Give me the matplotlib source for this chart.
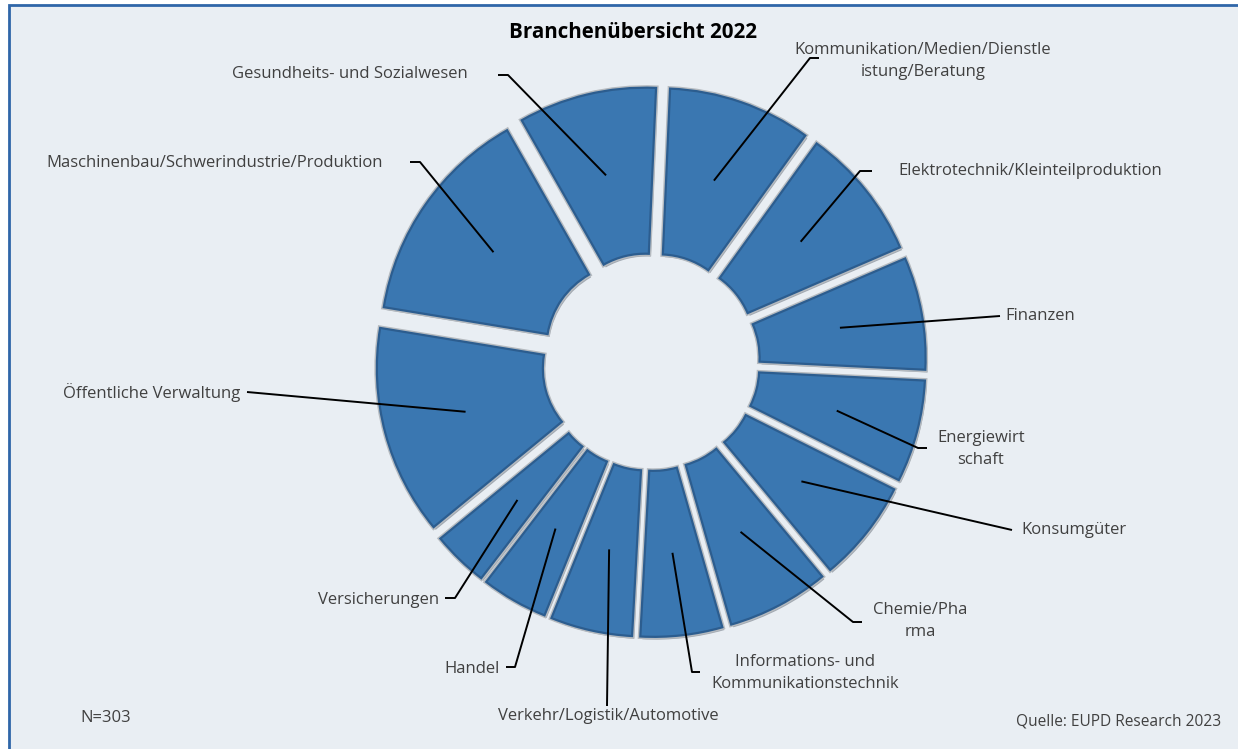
import numpy as np
import matplotlib.pyplot as plt
import matplotlib.patheffects as pe
from matplotlib.patches import Rectangle

plt.rcParams['font.family'] = ['Open Sans', 'DejaVu Sans']

# Branchen, clockwise from the top
branchen = [
    "Kommunikation/Medien/Dienstle\nistung/Beratung",
    "Elektrotechnik/Kleinteilproduktion",
    "Finanzen",
    "Energiewirt\nschaft",
    "Konsumgüter",
    "Chemie/Pha\nrma",
    "Informations- und\nKommunikationstechnik",
    "Verkehr/Logistik/Automotive",
    "Handel",
    "Versicherungen",
    "Öffentliche Verwaltung",
    "Maschinenbau/Schwerindustrie/Produktion",
    "Gesundheits- und Sozialwesen",
]
anzahl = [28, 26, 22, 20, 20, 20, 16, 16, 13, 11, 41, 43, 27]

# label layout in pixels: elbow x, elbow y, end x, text x, text y, alignment
layout = [
    (810, 58, 819, 923, 61, 'center'),
    (860, 171, 872, 898, 171, 'left'),
    (1000, 316, 1000, 1005, 316, 'left'),
    (918, 448, 927, 981, 449, 'center'),
    (1012, 530, 1012, 1021, 530, 'left'),
    (853, 622, 862, 920, 621, 'center'),
    (692, 672, 700, 805, 673, 'center'),
    (607, 706, 607, 608, 716, 'center'),
    (515, 667, 506, 500, 669, 'right'),
    (455, 598, 445, 439, 600, 'right'),
    (247, 392, 247, 240, 393, 'right'),
    (420, 162, 410, 383, 163, 'right'),
    (508, 75, 498, 468, 74, 'right'),
]

cx, cy = 651, 362
R, ring = 250, 166

fig = plt.figure(figsize=(12.38, 7.49), dpi=100, facecolor='white')
ax = fig.add_axes([0, 0, 1, 1])

wedges, _ = ax.pie(anzahl, center=(cx, cy), radius=R, startangle=-87.5,
                   counterclock=True, explode=[25] * len(anzahl),
                   colors=['#3a77b1'] * len(anzahl),
                   wedgeprops=dict(width=ring, edgecolor='#2c5d8f', linewidth=1.6))
for w in wedges:
    w.set_path_effects([pe.SimplePatchShadow(offset=(1.5, -2), shadow_rgbFace='#5a6470', alpha=0.5),
                        pe.Stroke(linewidth=3.6, foreground='#b5babf'),
                        pe.Normal()])

ax.add_patch(Rectangle((9, 5), 1240, 760, facecolor='#e9eef3', edgecolor='#2f66a8',
                       linewidth=2, zorder=-5))

for w, lab, (ex, ey, endx, tx, ty, ha) in zip(wedges, branchen, layout):
    mid = np.deg2rad((w.theta1 + w.theta2) / 2)
    rm = w.r - w.width / 2
    ax0 = w.center[0] + rm * np.cos(mid)
    ay0 = w.center[1] + rm * np.sin(mid)
    ax.plot([ax0, ex, endx], [ay0, ey, ey], color='black', lw=1.4, zorder=5,
            solid_capstyle='butt')
    ax.text(tx, ty, lab, ha=ha, va='center', fontsize=12, color='#404040',
            linespacing=1.45, multialignment='center')

ax.text(633, 32, "Branchenübersicht 2022", ha='center', va='center', fontsize=14.8,
        fontweight='bold', color='black')
ax.text(80, 718, "N=303", ha='left', va='center', fontsize=12, color='#404040')
ax.text(1221, 721, "Quelle: EUPD Research 2023", ha='right', va='center', fontsize=11.2,
        color='#404040')

ax.set_xlim(0, 1238)
ax.set_ylim(749, 0)
ax.set_aspect('equal')
ax.axis('off')

fig.savefig('out.png', dpi=100, facecolor='white')
